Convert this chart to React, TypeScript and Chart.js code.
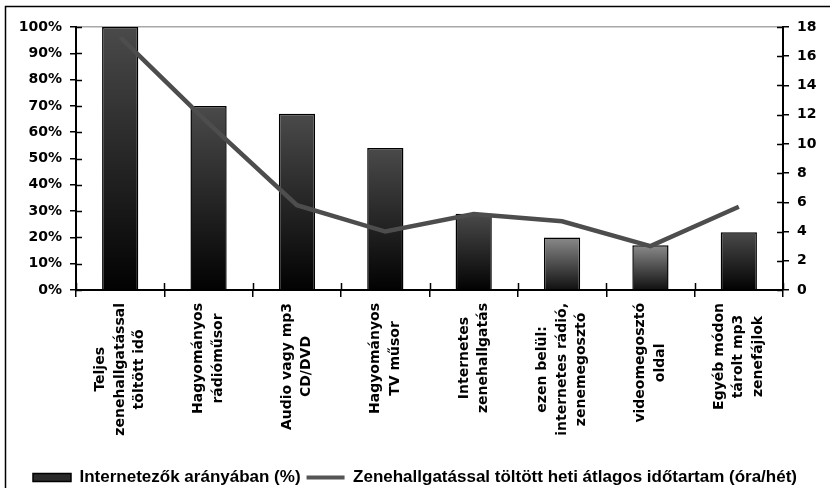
import React, { useEffect, useRef } from "react";
import { Chart, registerables } from "chart.js";

Chart.register(...registerables);

// ---- data ----
const categories: string[][] = [
  ["Teljes", "zenehallgatással", "töltött idő"],
  ["Hagyományos", "rádióműsor"],
  ["Audio vagy mp3", "CD/DVD"],
  ["Hagyományos", "TV műsor"],
  ["Internetes", "zenehallgatás"],
  ["ezen belül:", "internetes rádió,", "zenemegosztó"],
  ["videomegosztó", "oldal"],
  ["Egyéb módon", "tárolt mp3", "zenefájlok"],
];
const shareValues = [100, 70, 67, 54, 29, 20, 17, 22];
const hoursValues = [17.3, 11.4, 5.8, 4.0, 5.2, 4.7, 3.0, 5.7];
const lightBars = [false, false, false, false, false, true, true, false];
const seriesNames = [
  "Internetezők arányában (%)",
  "Zenehallgatással töltött heti átlagos időtartam (óra/hét)",
];
const leftMax = 100;
const leftStep = 10;
const rightMax = 18;
const rightStep = 2;

const AXIS_FONT = '"DejaVu Sans", sans-serif';
const LEGEND_FONT = '"Liberation Sans", Arial, sans-serif';

const decorPlugin = {
  id: "decor",
  beforeDraw(chart: any) {
    const c = chart.ctx;
    c.save();
    c.fillStyle = "#fff";
    c.fillRect(0, 0, chart.width, chart.height);
    c.strokeStyle = "#000";
    c.lineWidth = 1.5;
    c.beginPath();
    c.moveTo(5.5, chart.height + 2);
    c.lineTo(5.5, 6.5);
    c.lineTo(chart.width + 2, 6.5);
    c.stroke();
    c.restore();
  },
  afterDraw(chart: any) {
    const c = chart.ctx;
    const area = chart.chartArea;
    const xs = chart.scales.x;
    const ys = chart.scales.y;
    const ys1 = chart.scales.y1;
    c.save();
    c.strokeStyle = "#000";
    c.lineWidth = 1.5;
    c.beginPath();
    ys.ticks.forEach((t: any) => {
      const p = Math.round(ys.getPixelForValue(t.value)) + 0.5;
      c.moveTo(area.left, p);
      c.lineTo(area.left + 6, p);
    });
    ys1.ticks.forEach((t: any) => {
      const p = Math.round(ys1.getPixelForValue(t.value)) + 0.5;
      c.moveTo(area.right - 6, p);
      c.lineTo(area.right, p);
    });
    for (let i = 0; i <= categories.length; i++) {
      const p = Math.round(xs.getPixelForValue(i - 0.5)) + 0.5;
      c.moveTo(p, area.bottom);
      c.lineTo(p, area.bottom - 7);
    }
    c.stroke();

    // category labels: rotated, lines centred in a block anchored near the axis
    c.fillStyle = "#000";
    c.font = `bold 14px ${AXIS_FONT}`;
    const lh = 19.5;
    categories.forEach((lines, i) => {
      const cx = xs.getPixelForValue(i);
      const maxW = Math.max(...lines.map((l) => c.measureText(l).width));
      const yc = area.bottom + 13 + maxW / 2;
      lines.forEach((line, j) => {
        const x = cx + (j - (lines.length - 1) / 2) * lh;
        c.save();
        c.translate(x, yc);
        c.rotate(-Math.PI / 2);
        c.textAlign = "center";
        c.textBaseline = "middle";
        c.fillText(line, 0, 0);
        c.restore();
      });
    });

    // legend line symbol
    const lg = chart.legend;
    if (lg && lg.legendHitBoxes && lg.legendHitBoxes[1]) {
      const hb = lg.legendHitBoxes[1];
      const cy = hb.top + hb.height / 2;
      c.strokeStyle = "#555";
      c.lineWidth = 4;
      c.beginPath();
      c.moveTo(hb.left, cy);
      c.lineTo(hb.left + 38, cy);
      c.stroke();
    }
    c.restore();
  },
};

function barFill(ctx: any) {
  const chart = ctx.chart;
  const area = chart.chartArea;
  if (!area || ctx.dataIndex === undefined) return "#333";
  const top = chart.scales.y.getPixelForValue(shareValues[ctx.dataIndex]);
  const g = chart.ctx.createLinearGradient(0, top, 0, area.bottom);
  if (lightBars[ctx.dataIndex]) {
    g.addColorStop(0, "#8a8a8a");
    g.addColorStop(1, "#101010");
  } else {
    g.addColorStop(0, "#4a4a4a");
    g.addColorStop(1, "#020202");
  }
  return g;
}

export default function App() {
  const ref = useRef<HTMLCanvasElement | null>(null);
  useEffect(() => {
    if (!ref.current) return;
    const chart = new Chart(ref.current, {
      type: "bar",
      data: {
        labels: categories.map((c) => c.join(" ")),
        datasets: [
          {
            type: "bar",
            label: seriesNames[0],
            data: shareValues,
            yAxisID: "y",
            order: 1,
            backgroundColor: barFill,
            borderColor: "#000",
            borderWidth: 1.5,
            categoryPercentage: 1,
            barPercentage: 0.41,
          } as any,
          {
            type: "line",
            label: seriesNames[1],
            data: hoursValues,
            yAxisID: "y1",
            order: 0,
            borderColor: "#4d4d4d",
            borderWidth: 4.5,
            pointRadius: 0,
            tension: 0,
            fill: false,
          } as any,
        ],
      },
      options: {
        responsive: false,
        animation: false,
        devicePixelRatio: 1,
        layout: { padding: { top: 27, left: 0, right: 0, bottom: -8 } },
        plugins: {
          tooltip: { enabled: false },
          legend: {
            position: "bottom",
            labels: {
              font: { family: LEGEND_FONT, weight: "bold", size: 17 },
              color: "#000",
              boxWidth: 38,
              boxHeight: 8,
              padding: 6,
              generateLabels: () => [
                {
                  text: seriesNames[0],
                  fillStyle: "#2a2a2a",
                  strokeStyle: "#000",
                  lineWidth: 1.5,
                  datasetIndex: 0,
                  hidden: false,
                  fontColor: "#000",
                },
                {
                  text: seriesNames[1],
                  fillStyle: "rgba(0,0,0,0)",
                  strokeStyle: "rgba(0,0,0,0)",
                  lineWidth: 0,
                  datasetIndex: 1,
                  hidden: false,
                  fontColor: "#000",
                },
              ],
            },
          },
        },
        scales: {
          x: {
            offset: true,
            grid: {
              display: true,
              offset: true,
              drawOnChartArea: false,
              drawTicks: true,
              tickLength: 7,
              color: "#000",
              lineWidth: 1.5,
            },
            border: { display: true, color: "#000", width: 2 },
            ticks: { display: false },
            afterFit: (s: any) => {
              s.height = 173;
            },
          },
          y: {
            position: "left",
            min: 0,
            max: leftMax,
            ticks: {
              stepSize: leftStep,
              callback: (v: any) => v + "%",
              font: { family: AXIS_FONT, weight: "bold", size: 14 },
              color: "#000",
              padding: 8,
            },
            grid: {
              drawOnChartArea: true,
              color: (ctx: any) =>
                ctx.tick && ctx.tick.value === leftMax ? "#a8a8a8" : "rgba(0,0,0,0)",
              tickColor: "#000",
              tickLength: 6,
              lineWidth: 1.5,
            },
            border: { display: true, color: "#000", width: 2 },
            afterFit: (s: any) => {
              s.width = 76;
            },
          },
          y1: {
            position: "right",
            min: 0,
            max: rightMax,
            ticks: {
              stepSize: rightStep,
              font: { family: AXIS_FONT, weight: "bold", size: 14 },
              color: "#000",
              padding: 8,
            },
            grid: {
              drawOnChartArea: false,
              color: "#000",
              tickColor: "#000",
              tickLength: 6,
              lineWidth: 1.5,
            },
            border: { display: true, color: "#000", width: 2 },
            afterFit: (s: any) => {
              s.width = 47;
            },
          },
        },
      },
      plugins: [decorPlugin],
    });
    return () => chart.destroy();
  }, []);
  return (
    <div style={{ position: "absolute", left: 0, top: 0, width: 830, height: 488 }}>
      <canvas ref={ref} width={830} height={488} style={{ display: "block" }} />
    </div>
  );
}
